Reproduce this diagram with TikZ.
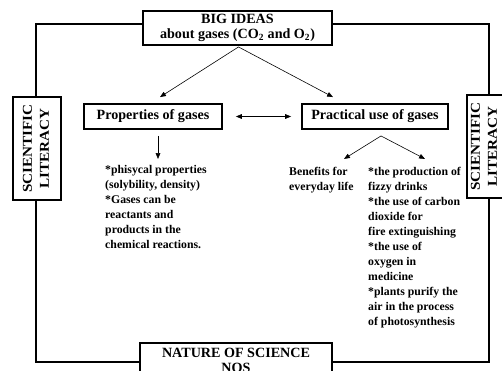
\documentclass[tikz,border=0pt]{standalone}
\usepackage{fontspec}
\setmainfont{Liberation Serif}
\usepackage{tikz}
\usetikzlibrary{positioning,arrows.meta,calc}

\newcommand{\littext}{\scalebox{1.12}[1]{\begin{tabular}{@{}c@{}}SCIENTIFIC\\LITERACY\end{tabular}}}

\begin{document}
\begin{tikzpicture}[
  x=0.85pt, y=-0.85pt,
  box/.style={draw, line width=1.6pt, inner sep=0pt, align=center, font=\bfseries\fontsize{12}{12.75}\selectfont},
  litbox/.style={draw, line width=1.6pt, inner sep=0pt, rotate=90, align=center,
    minimum width=88pt, font=\bfseries\fontsize{11.5}{14.5}\selectfont},
  note/.style={anchor=north west, inner sep=0pt, align=left, font=\bfseries\fontsize{10}{12.75}\selectfont},
  frame/.style={line width=1.6pt},
  arr/.style={-{Triangle[length=5pt,width=4pt]}, line width=0.5pt},
  arrboth/.style={{Triangle[length=5pt,width=4pt]}-{Triangle[length=5pt,width=4pt]}, line width=0.5pt}
]
\useasboundingbox (0,0) rectangle (502,370);
\clip (0,0) rectangle (502,370);

% boxes
\node[box, minimum width=160.7pt, minimum height=28.9pt] (big) at (237.5,28)
  {BIG IDEAS\\about gases (CO\textsubscript{2} and O\textsubscript{2})};
\node[box, minimum width=163pt, minimum height=28.9pt] (nos) at (236,360)
  {NATURE OF SCIENCE\\NOS};
\node[litbox, minimum height=40.8pt] (litL) at (37,148.5) {\littext};
\node[litbox, minimum height=30.6pt] (litR) at (485,146.5) {\littext};
\node[box, minimum width=117.3pt, minimum height=21.25pt] (prop) at (153,116.5) {Properties of gases};
\node[box, minimum width=124.1pt, minimum height=21.25pt] (prac) at (375,116.5) {Practical use of gases};

% texts
\node[note] (phys) at (105,165) {*phisycal properties\\(solybility, density)\\*Gases can be\\reactants and\\products in the\\chemical reactions.};
\node[note] (bene) at (289,167) {Benefits for\\everyday life};
\node[note] (uses) at (368,167) {*the production of\\fizzy drinks\\*the use of carbon\\dioxide for\\fire extinguishing\\*the use of\\oxygen in\\medicine\\*plants purify the\\air in the process\\of photosynthesis};

% frame
\coordinate (tl) at (36,24);
\coordinate (tr) at (489,24);
\coordinate (bl) at (36,362);
\coordinate (br) at (489,362);
\draw[frame] (big.west |- tl) -- (tl) -- (litL.east -| tl);
\draw[frame] (litL.west -| bl) -- (bl) -- (nos.west |- bl);
\draw[frame] (big.east |- tr) -- (tr) -- (litR.east -| tr);
\draw[frame] (litR.west -| br) -- (br) -- (nos.east |- br);

% arrows
\draw[arr] ($(big.south)+(1,1)$) -- ($(prop.north)+(7,-6)$);
\draw[arr] ($(big.south)+(1,1)$) -- ($(prac.north)+(-42,-6)$);
\draw[arrboth] ($(prop.east)+(13,0)$) -- ($(prac.west)+(-10,0)$);
\draw[arr] ($(prop.south)+(5,6)$) -- ($(prop.south)+(5,29)$);
\draw[arr] ($(prac.south)+(6,6)$) -- ($(prac.south)+(-31,29)$);
\draw[arr] ($(prac.south)+(6,6)$) -- ($(prac.south)+(50,29)$);
\end{tikzpicture}
\end{document}
